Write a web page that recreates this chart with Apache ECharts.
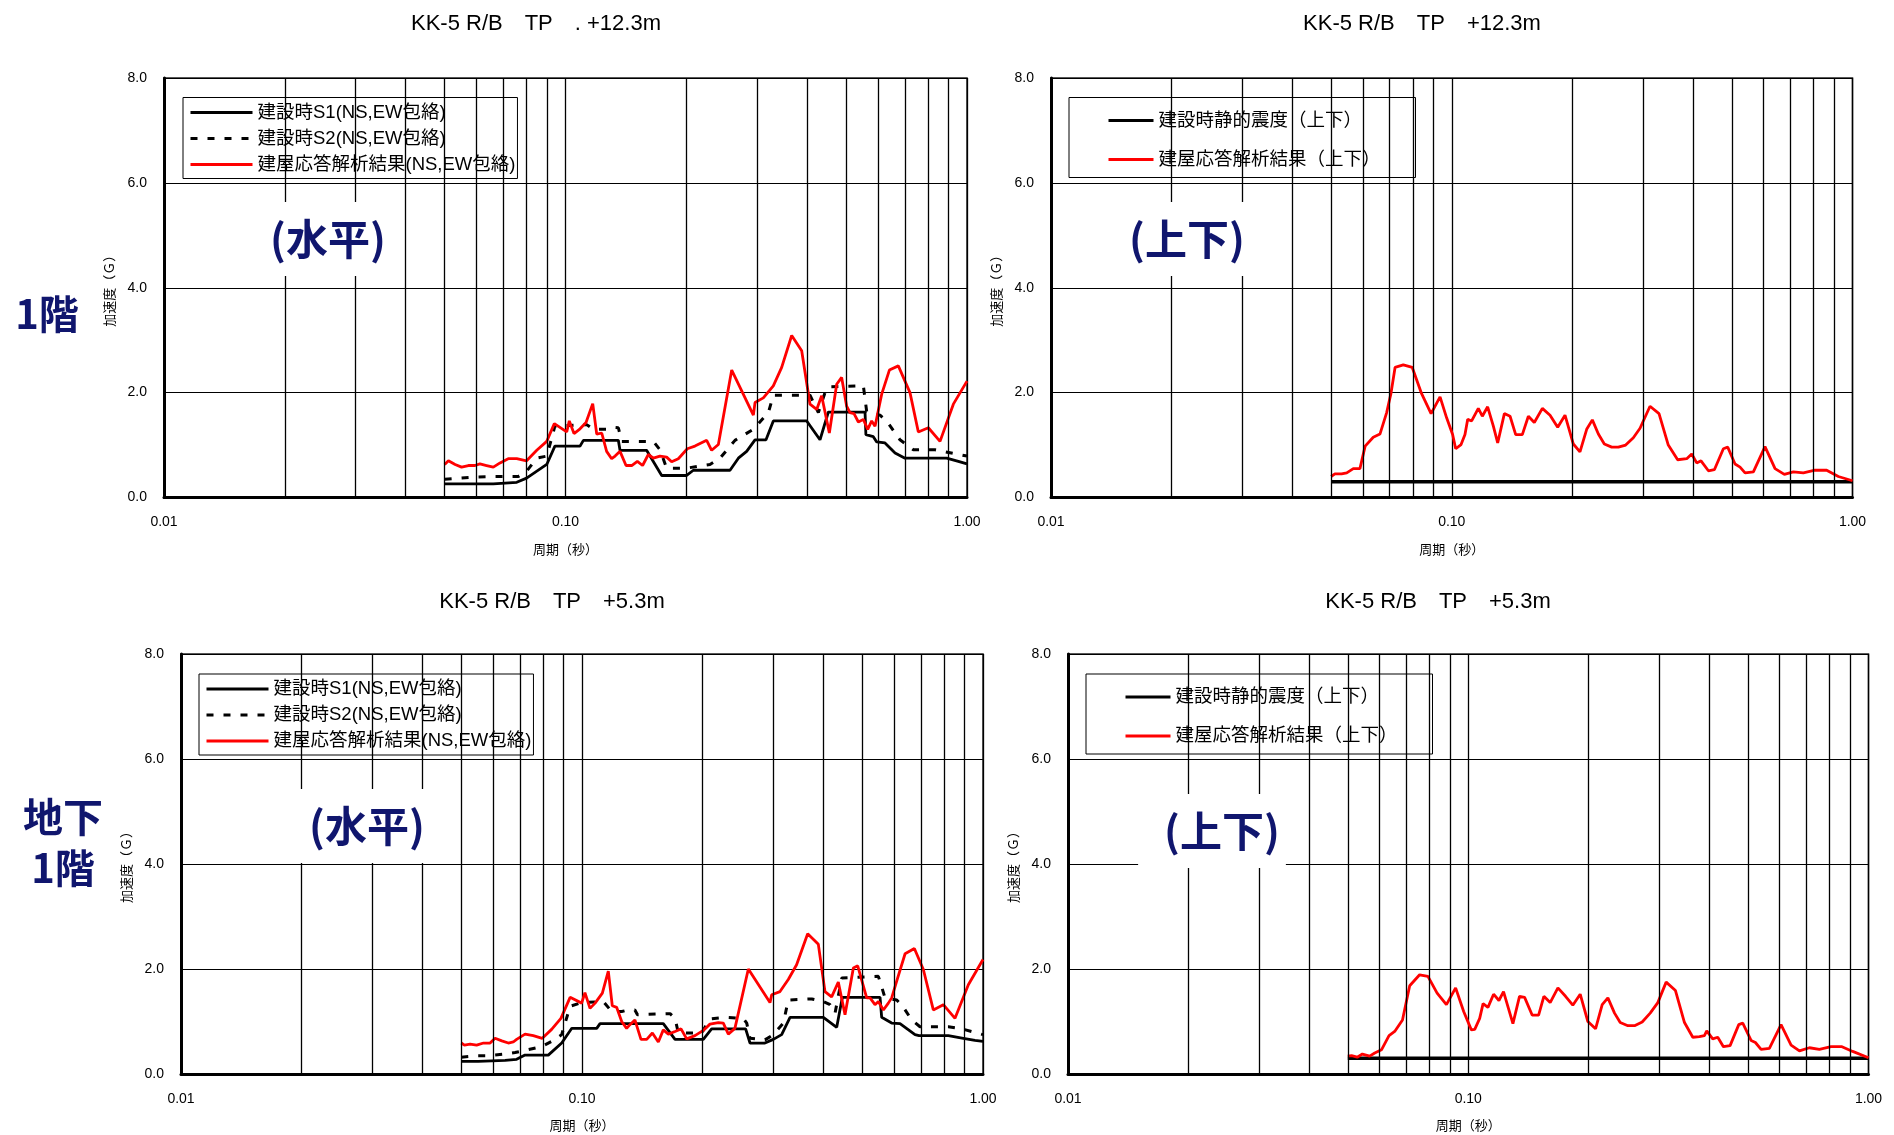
<!DOCTYPE html>
<html>
<head>
<meta charset="utf-8">
<title>KK-5 R/B 床応答スペクトル</title>
<script src="https://cdn.jsdelivr.net/npm/echarts/dist/echarts.min.js"></script>
<style>
  html, body { margin: 0; padding: 0; background: #ffffff; }
  #chart { width: 1894px; height: 1135px; }
</style>
</head>
<body>
<div id="chart"></div>
<script>
// ---- log-axis minor gridline periods (s) ----
const minorPeriods = [0.02, 0.03, 0.04, 0.05, 0.06, 0.07, 0.08, 0.09,
                      0.2, 0.3, 0.4, 0.5, 0.6, 0.7, 0.8, 0.9];

// ---- 1階 (TP +12.3m) 水平 ----
const f1hRespT = [0.0500,0.0511,0.0531,0.0551,0.0573,0.0595,0.0612,0.0636,0.0661,0.0687,0.0720,0.0756,0.0800,0.0848,0.0898,0.0938,0.1007,0.1022,0.1050,0.1087,0.1125,0.1169,0.1196,0.1231,0.1266,0.1303,0.1329,0.1367,0.1415,0.1462,0.1510,0.1556,0.1608,0.1655,0.1719,0.1786,0.1838,0.1910,0.2011,0.2101,0.2247,0.2312,0.2403,0.2594,0.2937,0.2965,0.3110,0.3293,0.3455,0.3659,0.3875,0.4064,0.4223,0.4345,0.4541,0.4736,0.4873,0.5015,0.5112,0.5231,0.5363,0.5519,0.5658,0.5789,0.5901,0.6131,0.6408,0.6745,0.7211,0.7565,0.8012,0.8567,0.9247,1.0000];
const f1hRespG = [0.63,0.70,0.63,0.58,0.61,0.61,0.64,0.61,0.58,0.66,0.74,0.74,0.70,0.90,1.07,1.41,1.25,1.46,1.22,1.31,1.43,1.79,1.21,1.23,0.88,0.74,0.79,0.88,0.61,0.61,0.69,0.61,0.82,0.75,0.79,0.77,0.68,0.74,0.93,0.98,1.09,0.90,1.01,2.43,1.57,1.81,1.90,2.13,2.48,3.09,2.80,1.78,1.68,1.94,1.23,2.16,2.29,1.74,1.62,1.60,1.44,1.49,1.30,1.46,1.36,1.97,2.43,2.51,2.00,1.25,1.33,1.07,1.78,2.22];
const f1hS1T = [0.0500,0.0661,0.0756,0.0800,0.0898,0.0941,0.1087,0.1108,0.1354,0.1367,0.1592,0.1736,0.2003,0.2082,0.2569,0.2695,0.2826,0.2965,0.3158,0.3293,0.3988,0.4304,0.4515,0.5572,0.5600,0.5844,0.5958,0.6248,0.6619,0.7008,0.8898,0.9515,1.0000];
const f1hS1G = [0.26,0.26,0.29,0.37,0.63,0.98,0.98,1.09,1.09,0.90,0.90,0.42,0.42,0.52,0.52,0.75,0.88,1.10,1.10,1.46,1.46,1.10,1.63,1.63,1.20,1.16,1.06,1.04,0.85,0.75,0.75,0.69,0.64];
const f1hS2T = [0.0500,0.0590,0.0661,0.0763,0.0800,0.0848,0.0898,0.0941,0.1129,0.1173,0.1266,0.1303,0.1354,0.1380,0.1655,0.1719,0.1786,0.2003,0.2290,0.2426,0.2643,0.2937,0.3201,0.3293,0.4064,0.4264,0.4429,0.4515,0.5519,0.5625,0.6072,0.6307,0.6809,0.7351,0.8324,1.0000];
const f1hS2G = [0.35,0.39,0.40,0.40,0.50,0.75,0.79,1.36,1.39,1.30,1.30,1.34,1.33,1.07,1.07,0.91,0.56,0.56,0.63,0.75,1.09,1.30,1.62,1.95,1.95,1.62,2.00,2.11,2.13,1.64,1.57,1.46,1.10,0.91,0.91,0.79];

// ---- 1階 (TP +12.3m) 上下 ----
const f1vRespT = [0.0500,0.0511,0.0531,0.0547,0.0568,0.0590,0.0608,0.0637,0.0662,0.0688,0.0705,0.0722,0.0757,0.0797,0.0841,0.0888,0.0935,0.0971,0.1005,0.1023,0.1055,0.1079,0.1096,0.1121,0.1165,0.1192,0.1229,0.1270,0.1302,0.1353,0.1398,0.1444,0.1500,0.1553,0.1607,0.1683,0.1759,0.1838,0.1917,0.2011,0.2089,0.2171,0.2243,0.2322,0.2403,0.2507,0.2605,0.2716,0.2839,0.2950,0.3124,0.3290,0.3470,0.3662,0.3858,0.3970,0.4085,0.4188,0.4369,0.4522,0.4762,0.4882,0.5092,0.5241,0.5394,0.5658,0.6048,0.6408,0.6760,0.7118,0.7540,0.8062,0.8620,0.9219,1.0000];
const f1vRespG = [0.40,0.45,0.45,0.47,0.55,0.55,0.98,1.15,1.21,1.62,1.98,2.48,2.53,2.48,1.98,1.60,1.92,1.52,1.20,0.93,1.01,1.20,1.49,1.46,1.70,1.55,1.73,1.36,1.04,1.60,1.55,1.20,1.20,1.55,1.43,1.70,1.57,1.34,1.57,1.02,0.87,1.30,1.48,1.21,1.02,0.96,0.96,1.00,1.14,1.32,1.74,1.60,1.00,0.72,0.74,0.83,0.66,0.70,0.51,0.53,0.93,0.96,0.64,0.58,0.47,0.49,0.97,0.55,0.44,0.49,0.47,0.52,0.52,0.40,0.32];
const f1vStaticT = [0.05, 1.00];
const f1vStaticG = [0.30, 0.30];

// ---- 地下1階 (TP +5.3m) 水平 ----
const b1hRespT = [0.0500,0.0509,0.0526,0.0546,0.0568,0.0590,0.0607,0.0631,0.0655,0.0674,0.0687,0.0721,0.0756,0.0796,0.0840,0.0886,0.0934,0.0998,0.1017,0.1047,0.1078,0.1124,0.1163,0.1190,0.1220,0.1256,0.1292,0.1317,0.1355,0.1403,0.1450,0.1498,0.1550,0.1595,0.1642,0.1706,0.1766,0.1824,0.1913,0.2007,0.2085,0.2188,0.2251,0.2317,0.2406,0.2599,0.2943,0.2972,0.3117,0.3269,0.3429,0.3654,0.3885,0.4036,0.4193,0.4357,0.4528,0.4750,0.4870,0.5128,0.5227,0.5379,0.5483,0.5644,0.5807,0.5919,0.6127,0.6393,0.6743,0.7100,0.7518,0.7963,0.8515,0.9193,1.0000];
const b1hRespG = [0.59,0.55,0.57,0.55,0.59,0.59,0.68,0.63,0.59,0.61,0.66,0.76,0.73,0.68,0.85,1.06,1.46,1.35,1.55,1.25,1.35,1.54,1.96,1.30,1.27,1.00,0.87,0.94,1.03,0.66,0.66,0.78,0.61,0.84,0.76,0.81,0.86,0.67,0.73,0.83,0.95,0.98,0.97,0.76,0.87,2.00,1.36,1.51,1.57,1.80,2.08,2.67,2.47,1.57,1.47,1.75,1.13,2.02,2.06,1.45,1.45,1.32,1.38,1.22,1.35,1.45,1.83,2.29,2.39,1.99,1.22,1.32,1.06,1.70,2.18];
const b1hS1T = [0.0500,0.0551,0.0643,0.0687,0.0721,0.0824,0.0890,0.0943,0.1088,0.1109,0.1595,0.1706,0.2007,0.2105,0.2559,0.2624,0.2859,0.3000,0.3147,0.3302,0.3998,0.4317,0.4459,0.5537,0.5589,0.5919,0.6209,0.6768,0.6925,0.8195,0.8933,0.9550,1.0000];
const b1hS1G = [0.24,0.24,0.26,0.28,0.36,0.36,0.59,0.87,0.87,0.96,0.96,0.66,0.66,0.86,0.86,0.59,0.59,0.66,0.75,1.08,1.08,0.89,1.46,1.46,1.08,0.97,0.96,0.75,0.73,0.73,0.68,0.64,0.62];
const b1hS2T = [0.0500,0.0551,0.0584,0.0643,0.0681,0.0721,0.0793,0.0840,0.0890,0.0934,0.0998,0.1130,0.1186,0.1256,0.1305,0.1355,0.1375,0.1658,0.1706,0.1739,0.1988,0.2085,0.2273,0.2526,0.2575,0.2624,0.2859,0.3000,0.3178,0.3269,0.3739,0.3998,0.4155,0.4276,0.4444,0.5483,0.5537,0.5697,0.6093,0.6307,0.6639,0.6965,0.8195,0.8845,1.0000];
const b1hS2G = [0.32,0.35,0.35,0.38,0.41,0.45,0.52,0.62,0.75,1.29,1.36,1.38,1.19,1.19,1.22,1.22,1.13,1.15,1.06,0.78,0.78,1.05,1.08,1.06,0.97,0.68,0.65,0.75,0.97,1.41,1.43,1.38,1.32,1.16,1.83,1.86,1.76,1.45,1.41,1.29,1.03,0.90,0.90,0.86,0.75];

// ---- 地下1階 (TP +5.3m) 上下 ----
const b1vRespT = [0.0500,0.0511,0.0528,0.0544,0.0567,0.0584,0.0607,0.0634,0.0655,0.0685,0.0714,0.0756,0.0793,0.0836,0.0882,0.0930,0.0974,0.1018,0.1038,0.1068,0.1089,0.1120,0.1157,0.1193,0.1225,0.1293,0.1343,0.1383,0.1445,0.1499,0.1545,0.1602,0.1675,0.1750,0.1825,0.1904,0.1990,0.2080,0.2161,0.2233,0.2320,0.2397,0.2505,0.2603,0.2720,0.2848,0.2976,0.3122,0.3294,0.3469,0.3639,0.3781,0.3891,0.3943,0.4081,0.4201,0.4340,0.4510,0.4741,0.4851,0.5089,0.5217,0.5390,0.5654,0.6046,0.6406,0.6721,0.7116,0.7539,0.8062,0.8585,0.9130,1.0000];
const b1vRespG = [0.34,0.35,0.32,0.38,0.34,0.40,0.46,0.73,0.81,1.03,1.68,1.89,1.86,1.54,1.32,1.64,1.19,0.84,0.85,1.06,1.34,1.27,1.52,1.40,1.57,0.96,1.48,1.46,1.12,1.12,1.48,1.36,1.64,1.48,1.31,1.52,1.00,0.86,1.32,1.45,1.16,0.98,0.92,0.92,0.99,1.16,1.36,1.75,1.59,0.98,0.70,0.71,0.73,0.82,0.67,0.70,0.52,0.54,0.94,0.97,0.64,0.60,0.47,0.49,0.94,0.55,0.44,0.50,0.47,0.52,0.52,0.43,0.31];
const b1vStaticT = [0.05, 1.00];
const b1vStaticG = [0.30, 0.30];

// ---- legend names ----
const NAME_S1 = '建設時S1(NS,EW包絡)';
const NAME_S2 = '建設時S2(NS,EW包絡)';
const NAME_RESP_H = '建屋応答解析結果(NS,EW包絡)';
const NAME_STATIC_V = '建設時静的震度（上下）';
const NAME_RESP_V = '建屋応答解析結果（上下）';

// ---- drawing styles ----
const FONT = "'Liberation Sans', 'Noto Sans CJK JP', sans-serif";
const CJK_FONT = "'Noto Sans CJK JP', sans-serif";
const NAVY = '#10166e';
const STYLE_S1 = { color: '#000000', width: 2.8, type: 'solid' };
const STYLE_S2 = { color: '#000000', width: 3, type: [7, 10] };
const STYLE_RESP = { color: '#ff0000', width: 2.8, type: 'solid' };
const STYLE_STATIC = { color: '#000000', width: 3.5, type: 'solid' };

const zip = (t, g) => t.map((p, i) => [p, g[i]]);

const panels = [
  {
    grid: { left: 164, top: 78, width: 803, height: 419.5 },
    title: { text: 'KK-5 R/B　TP　. +12.3m', cx: 536, top: 12.5 },
    legend: { left: 183, top: 97.5, padding: [5, 2, 4, 6], itemWidth: 62, itemGap: 6 },
    lines: [
      { name: NAME_S1, t: f1hS1T, g: f1hS1G, style: STYLE_S1 },
      { name: NAME_S2, t: f1hS2T, g: f1hS2G, style: STYLE_S2 },
      { name: NAME_RESP_H, t: f1hRespT, g: f1hRespG, style: STYLE_RESP }
    ]
  },
  {
    grid: { left: 1051, top: 78, width: 801.5, height: 419.5 },
    title: { text: 'KK-5 R/B　TP　+12.3m', cx: 1422, top: 12.5 },
    legend: { left: 1069, top: 97.5, padding: [13, 35, 8, 38], itemWidth: 45, itemGap: 19 },
    lines: [
      { name: NAME_STATIC_V, t: f1vStaticT, g: f1vStaticG, style: STYLE_STATIC },
      { name: NAME_RESP_V, t: f1vRespT, g: f1vRespG, style: STYLE_RESP }
    ]
  },
  {
    grid: { left: 181, top: 654, width: 802, height: 420 },
    title: { text: 'KK-5 R/B　TP　+5.3m', cx: 552, top: 590.5 },
    legend: { left: 199, top: 674, padding: [5, 2, 4, 6], itemWidth: 62, itemGap: 6 },
    lines: [
      { name: NAME_S1, t: b1hS1T, g: b1hS1G, style: STYLE_S1 },
      { name: NAME_S2, t: b1hS2T, g: b1hS2G, style: STYLE_S2 },
      { name: NAME_RESP_H, t: b1hRespT, g: b1hRespG, style: STYLE_RESP }
    ]
  },
  {
    grid: { left: 1068, top: 654, width: 800.5, height: 420 },
    title: { text: 'KK-5 R/B　TP　+5.3m', cx: 1438, top: 590.5 },
    legend: { left: 1086, top: 674, padding: [13, 35, 8, 38], itemWidth: 45, itemGap: 19 },
    lines: [
      { name: NAME_STATIC_V, t: b1vStaticT, g: b1vStaticG, style: STYLE_STATIC },
      { name: NAME_RESP_V, t: b1vRespT, g: b1vRespG, style: STYLE_RESP }
    ]
  }
];

const option = {
  animation: false,
  backgroundColor: '#ffffff',
  textStyle: { fontFamily: FONT },
  title: [], grid: [], xAxis: [], yAxis: [], legend: [], series: []
};

panels.forEach((p, i) => {
  option.title.push({
    text: p.title.text,
    left: p.title.cx,
    top: p.title.top,
    textAlign: 'center',
    padding: 0,
    textStyle: { fontFamily: FONT, fontSize: 22, fontWeight: 'normal', color: '#000' }
  });
  option.grid.push(Object.assign({
    show: true, borderColor: '#222', borderWidth: 1.5,
    backgroundColor: 'transparent', containLabel: false, outerBoundsMode: 'none'
  }, p.grid));
  option.xAxis.push({
    type: 'log', logBase: 10, min: 0.01, max: 1, gridIndex: i,
    axisLine: { show: true, onZero: false, lineStyle: { color: '#000', width: 3 } },
    axisTick: { show: false },
    axisLabel: { formatter: v => Number(v).toFixed(2), fontSize: 14, color: '#000', margin: 18, fontFamily: FONT },
    splitLine: { show: true, lineStyle: { color: '#000', width: 1.3 } },
    name: '周期（秒）', nameLocation: 'middle', nameGap: 45,
    nameTextStyle: { fontSize: 13, color: '#000', fontFamily: CJK_FONT }
  });
  option.yAxis.push({
    type: 'value', min: 0, max: 8, interval: 2, gridIndex: i,
    axisLine: { show: true, lineStyle: { color: '#000', width: 3 } },
    axisTick: { show: false },
    axisLabel: { formatter: v => Number(v).toFixed(1), fontSize: 14, color: '#000', margin: 17, fontFamily: FONT },
    splitLine: { show: true, lineStyle: { color: '#000', width: 1.2 } },
    name: '加速度（Ｇ）', nameLocation: 'middle', nameGap: 48,
    nameTextStyle: { fontSize: 13, color: '#000', fontFamily: CJK_FONT }
  });
  option.legend.push({
    show: true, orient: 'vertical', selectedMode: false,
    left: p.legend.left, top: p.legend.top, padding: p.legend.padding,
    itemWidth: p.legend.itemWidth, itemHeight: 3, itemGap: p.legend.itemGap,
    itemStyle: { opacity: 0 },
    lineStyle: { width: 3 },
    backgroundColor: '#fff', borderColor: '#000', borderWidth: 1, borderRadius: 0,
    textStyle: { fontSize: 18.5, lineHeight: 20, color: '#000', fontFamily: FONT },
    data: p.lines.map(l => l.name)
  });
  // minor vertical gridlines at 2..9 × each decade
  option.series.push({
    type: 'line', xAxisIndex: i, yAxisIndex: i, data: [], silent: true, z: 1,
    markLine: {
      silent: true, symbol: ['none', 'none'], animation: false,
      label: { show: false }, emphasis: { disabled: true },
      lineStyle: { color: '#000', width: 1.3, type: 'solid' },
      data: minorPeriods.map(v => ({ xAxis: v }))
    }
  });
  p.lines.forEach(l => {
    option.series.push({
      type: 'line', name: l.name, xAxisIndex: i, yAxisIndex: i,
      data: zip(l.t, l.g), symbol: 'none', showSymbol: false, z: 3,
      lineStyle: l.style, itemStyle: { color: l.style.color },
      emphasis: { disabled: true }
    });
  });
});

// direction labels on white boxes, and floor labels
const boxText = (text, x, y, pad) => ({
  type: 'text', x: x, y: y, z: 50, silent: true,
  style: {
    text: text, fontSize: 42, fontWeight: 'bold', fontFamily: CJK_FONT, fill: NAVY,
    align: 'center', verticalAlign: 'middle', backgroundColor: '#fff', padding: pad
  }
});
option.graphic = [
  boxText('(水平)', 328, 239, [20, 14, 12, 14]),
  boxText('(上下)', 1187, 239, [20, 14, 12, 14]),
  boxText('(水平)', 367, 826, [20, 14, 12, 14]),
  boxText('(上下)', 1212, 831, [20, 6, 12, 26]),
  {
    type: 'text', x: 47, y: 314, z: 50, silent: true,
    style: { text: '1階', fontSize: 40, fontWeight: 'bold', fontFamily: CJK_FONT, fill: NAVY,
             align: 'center', verticalAlign: 'middle' }
  },
  {
    type: 'text', x: 63, y: 842, z: 50, silent: true,
    style: { text: '地下\n1階', fontSize: 40, fontWeight: 'bold', fontFamily: CJK_FONT, fill: NAVY,
             align: 'center', verticalAlign: 'middle', lineHeight: 51 }
  }
];

const chart = echarts.init(document.getElementById('chart'), null, { renderer: 'canvas' });
chart.setOption(option);
</script>
</body>
</html>
